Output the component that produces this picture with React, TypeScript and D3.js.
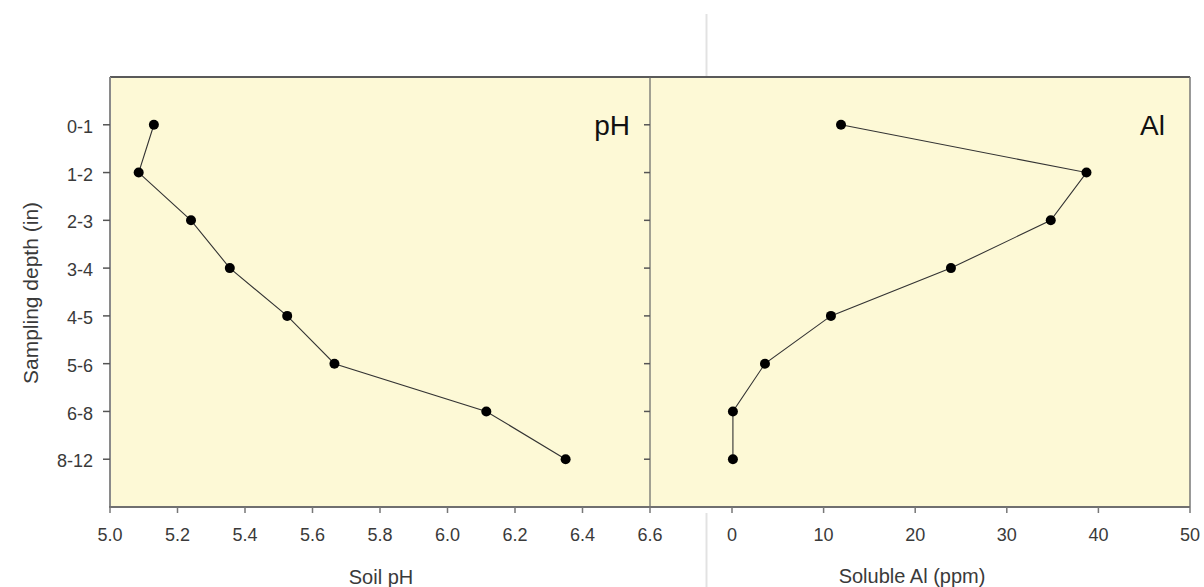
import { useEffect, useRef } from 'react';
import * as d3 from 'd3';

const depths = ['0-1', '1-2', '2-3', '3-4', '4-5', '5-6', '6-8', '8-12'];
const soilPH = [5.13, 5.085, 5.24, 5.355, 5.525, 5.665, 6.115, 6.35];
const solubleAl = [11.9, 38.7, 34.8, 23.9, 10.8, 3.6, 0.1, 0.1];
const phTicks = [5.0, 5.2, 5.4, 5.6, 5.8, 6.0, 6.2, 6.4, 6.6];
const alTicks = [0, 10, 20, 30, 40, 50];

const W = 1204;
const H = 587;
const FONT = 'Arial, "Liberation Sans", sans-serif';

export default function App() {
    const ref = useRef<SVGSVGElement>(null);

    useEffect(() => {
        if (!ref.current) return;
        const svg = d3.select(ref.current);
        svg.selectAll('*').remove();

        const top = 77;
        const bottom = 507;
        const left = 110;
        const mid = 650;
        const right = 1190;

        // depth positions: one empty slot above and below the categories
        const y = d3.scaleLinear().domain([0, depths.length + 1]).range([top, bottom]);
        const yPos = (i: number) => y(i + 1);

        const xPH = d3.scaleLinear().domain([5.0, 6.6]).range([left, mid]);
        const xAl = d3.scaleLinear().domain([0, 50]).range([732, right]);

        // plot background
        svg.append('rect')
            .attr('x', left).attr('y', top)
            .attr('width', right - left).attr('height', bottom - top)
            .attr('fill', '#fdf9d6');

        // faint seam between the two panels (outside plot)
        svg.append('line').attr('x1', 706.5).attr('x2', 706.5).attr('y1', 14).attr('y2', top)
            .attr('stroke', '#e2e2e2').attr('stroke-width', 2);
        svg.append('line').attr('x1', 706.5).attr('x2', 706.5).attr('y1', bottom + 6).attr('y2', H)
            .attr('stroke', '#e2e2e2').attr('stroke-width', 2);

        // borders
        svg.append('line').attr('x1', left).attr('x2', right).attr('y1', top).attr('y2', top)
            .attr('stroke', '#5a5a5a').attr('stroke-width', 2);
        svg.append('line').attr('x1', right).attr('x2', right).attr('y1', top).attr('y2', bottom)
            .attr('stroke', '#777').attr('stroke-width', 1.5);
        svg.append('line').attr('x1', mid).attr('x2', mid).attr('y1', top).attr('y2', bottom)
            .attr('stroke', '#666').attr('stroke-width', 1.2);
        svg.append('line').attr('x1', left).attr('x2', left).attr('y1', top).attr('y2', bottom + 1)
            .attr('stroke', '#8a8a8a').attr('stroke-width', 2);
        svg.append('line').attr('x1', left - 1).attr('x2', right).attr('y1', bottom).attr('y2', bottom)
            .attr('stroke', '#707070').attr('stroke-width', 2);

        // y ticks (both panels) and labels
        depths.forEach((d, i) => {
            const yy = yPos(i);
            svg.append('line').attr('x1', left - 7).attr('x2', left).attr('y1', yy).attr('y2', yy)
                .attr('stroke', '#555').attr('stroke-width', 1.5);
            svg.append('line').attr('x1', mid - 6).attr('x2', mid).attr('y1', yy).attr('y2', yy)
                .attr('stroke', '#555').attr('stroke-width', 1.5);
            svg.append('text')
                .attr('x', left - 17).attr('y', yy).attr('dy', '0.45em')
                .attr('text-anchor', 'end')
                .attr('font-family', FONT).attr('font-size', 18).attr('fill', '#3a3a3a')
                .text(d);
        });

        // x ticks
        const xTicks = (scale: d3.ScaleLinear<number, number>, ticks: number[], fmt: (v: number) => string) => {
            ticks.forEach(t => {
                const xx = scale(t);
                svg.append('line').attr('x1', xx).attr('x2', xx).attr('y1', bottom).attr('y2', bottom + 6)
                    .attr('stroke', '#777').attr('stroke-width', 1.5);
                svg.append('text')
                    .attr('x', xx).attr('y', 541)
                    .attr('text-anchor', 'middle')
                    .attr('font-family', FONT).attr('font-size', 18).attr('fill', '#3a3a3a')
                    .text(fmt(t));
            });
        };
        xTicks(xPH, phTicks, v => v.toFixed(1));
        xTicks(xAl, alTicks, v => String(v));

        // axis titles
        svg.append('text')
            .attr('transform', `translate(38,293) rotate(-90)`)
            .attr('text-anchor', 'middle')
            .attr('font-family', FONT).attr('font-size', 21).attr('fill', '#3a3a3a')
            .text('Sampling depth (in)');
        svg.append('text')
            .attr('x', 381).attr('y', 584).attr('text-anchor', 'middle')
            .attr('font-family', FONT).attr('font-size', 20).attr('fill', '#3a3a3a')
            .text('Soil pH');
        svg.append('text')
            .attr('x', 912).attr('y', 583).attr('text-anchor', 'middle')
            .attr('font-family', FONT).attr('font-size', 20).attr('fill', '#3a3a3a')
            .text('Soluble Al (ppm)');

        // panel labels
        svg.append('text')
            .attr('x', 630).attr('y', 135).attr('text-anchor', 'end')
            .attr('font-family', FONT).attr('font-size', 28).attr('fill', '#111')
            .text('pH');
        svg.append('text')
            .attr('x', 1165).attr('y', 135).attr('text-anchor', 'end')
            .attr('font-family', FONT).attr('font-size', 28).attr('fill', '#111')
            .text('Al');

        // series
        const drawSeries = (vals: number[], scale: d3.ScaleLinear<number, number>) => {
            const line = d3.line<number>()
                .x(v => scale(v))
                .y((_, i) => yPos(i));
            svg.append('path')
                .datum(vals)
                .attr('d', line)
                .attr('fill', 'none')
                .attr('stroke', '#333')
                .attr('stroke-width', 1.1);
            svg.selectAll(null)
                .data(vals)
                .enter()
                .append('circle')
                .attr('cx', v => scale(v))
                .attr('cy', (_, i) => yPos(i))
                .attr('r', 5)
                .attr('fill', '#000');
        };
        drawSeries(soilPH, xPH);
        drawSeries(solubleAl, xAl);
    }, []);

    return (
        <svg
            ref={ref}
            width={W}
            height={H}
            style={{ position: 'absolute', left: 0, top: 0, background: '#fff' }}
        />
    );
}
